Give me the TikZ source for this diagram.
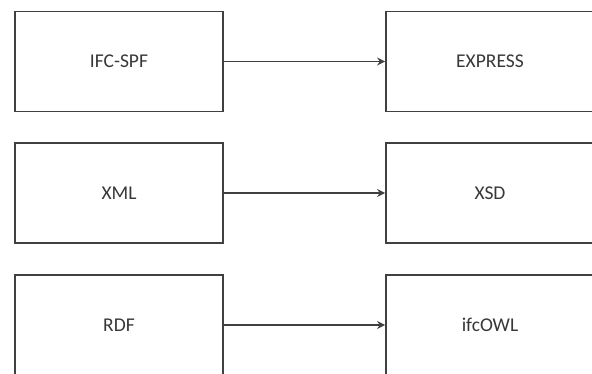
\documentclass[tikz,border=0pt]{standalone}
\usepackage{fontspec}
\setmainfont{Carlito}
\usetikzlibrary{arrows.meta}
\begin{document}
\begin{tikzpicture}[x=1pt,y=-1pt,
  box/.style={draw=black!75, line width=1.8pt, minimum width=208pt, minimum height=100pt, inner sep=0pt, font=\fontsize{19.5}{23}\selectfont, text=black!78, fill=white},
  link/.style={draw=black!75, line width=1.8pt, -{Stealth[length=8pt,width=8pt]}}]
\clip (0,0) rectangle (592,374);
\fill[white] (0,0) rectangle (592,374);
\node[box] (ifc) at (119,61.5) {IFC-SPF};
\node[box] (exp) at (490,61.5) {EXPRESS};
\node[box] (xml) at (119,193) {XML};
\node[box] (xsd) at (490,193) {XSD};
\node[box] (rdf) at (119,325) {RDF};
\node[box] (owl) at (490,325) {ifcOWL};
\draw[link] (ifc) -- (exp);
\draw[link] (xml) -- (xsd);
\draw[link] (rdf) -- (owl);
\end{tikzpicture}
\end{document}
